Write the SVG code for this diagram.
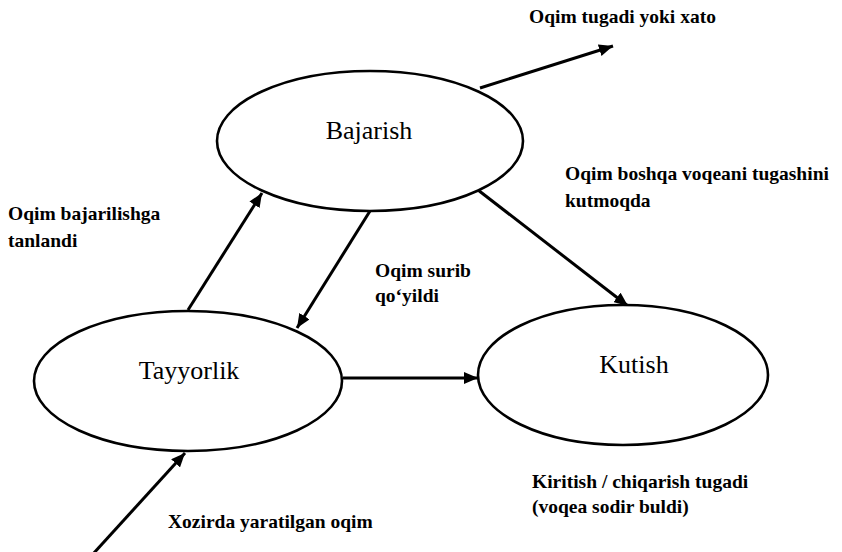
<svg xmlns="http://www.w3.org/2000/svg" width="842" height="552" viewBox="0 0 842 552">
  <style>
    .state { fill: #ffffff; stroke: #000000; stroke-width: 2.6; }
    .state-label { font-family: "Liberation Serif", "Times New Roman", serif; font-size: 26px; fill: #000000; text-anchor: middle; }
    .edge { stroke: #000000; stroke-width: 3; fill: none; marker-end: url(#arrow); }
    .note { font-family: "Liberation Serif", "Times New Roman", serif; font-size: 19.5px; font-weight: bold; fill: #000000; }
  </style>
  <defs>
    <marker id="arrow" markerUnits="userSpaceOnUse" markerWidth="16" markerHeight="12" refX="14" refY="6" orient="auto">
      <path d="M0,0 L14,6 L0,12 Z" fill="#000000"/>
    </marker>
  </defs>
  <rect width="842" height="552" fill="#ffffff"/>

  <!-- transitions -->
  <g id="connectors">
    <line class="edge" x1="480" y1="88" x2="613" y2="46"/>
    <line class="edge" x1="188" y1="310" x2="262" y2="193"/>
    <line class="edge" x1="370" y1="211" x2="297" y2="328"/>
    <line class="edge" x1="478" y1="190" x2="628" y2="306"/>
    <line class="edge" x1="343" y1="378" x2="478" y2="378"/>
    <line class="edge" x1="93" y1="554" x2="185" y2="453"/>
  </g>

  <!-- states -->
  <g id="bajarish">
    <ellipse class="state" cx="370" cy="141" rx="153" ry="70"/>
    <text class="state-label" x="369" y="139">Bajarish</text>
  </g>
  <g id="tayyorlik">
    <ellipse class="state" cx="188" cy="381" rx="154" ry="70"/>
    <text class="state-label" x="189" y="379">Tayyorlik</text>
  </g>
  <g id="kutish">
    <ellipse class="state" cx="623" cy="375" rx="145" ry="70"/>
    <text class="state-label" x="634" y="373">Kutish</text>
  </g>

  <!-- transition labels -->
  <g id="labels">
    <text class="note" x="529" y="23">Oqim tugadi yoki xato</text>
    <text class="note" x="8" y="220">Oqim bajarilishga</text>
    <text class="note" x="8" y="247">tanlandi</text>
    <text class="note" x="565" y="180">Oqim boshqa voqeani tugashini</text>
    <text class="note" x="565" y="207">kutmoqda</text>
    <text class="note" x="375" y="277">Oqim surib</text>
    <text class="note" x="375" y="302">qo‘yildi</text>
    <text class="note" x="532" y="488">Kiritish / chiqarish tugadi</text>
    <text class="note" x="532" y="513">(voqea sodir buldi)</text>
    <text class="note" x="168" y="528">Xozirda yaratilgan oqim</text>
  </g>
</svg>
